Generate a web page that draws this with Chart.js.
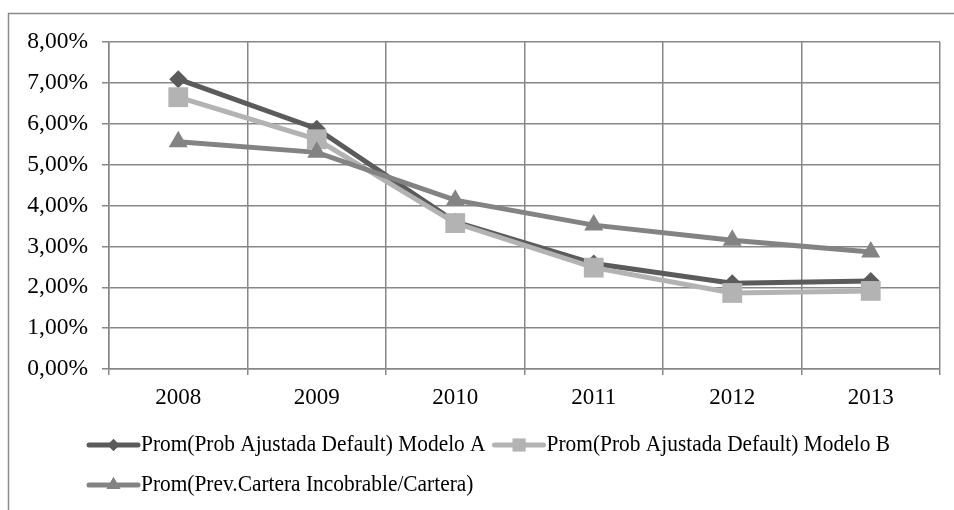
<!DOCTYPE html>
<html>
<head>
<meta charset="utf-8">
<script src="https://cdn.jsdelivr.net/npm/chart.js@4/dist/chart.umd.min.js"></script>
<style>
  html, body { margin: 0; padding: 0; background: #fff; }
  #wrap { width: 954px; height: 510px; }
</style>
</head>
<body>
<div id="wrap"><canvas id="myChart" width="954" height="510"></canvas></div>
<script>
// promedios anuales por modelo
var years = ["2008", "2009", "2010", "2011", "2012", "2013"];
var modeloA = [7.09, 5.88, 3.60, 2.58, 2.10, 2.15];
var modeloB = [6.65, 5.62, 3.57, 2.48, 1.86, 1.91];
var carteraIncob = [5.56, 5.30, 4.13, 3.52, 3.15, 2.86];
var yTicks = [0, 1, 2, 3, 4, 5, 6, 7, 8];

var labelA = "Prom(Prob Ajustada Default) Modelo A";
var labelB = "Prom(Prob Ajustada Default) Modelo B";
var labelC = "Prom(Prev.Cartera Incobrable/Cartera)";

var fontFamily = "'Liberation Serif', 'Times New Roman', serif";
var gridColor = "#878787";

function fmtPct(v) {
    return v.toFixed(2).replace(".", ",") + "%";
}

// marco exterior del grafico
var frame = {
    id: "frame",
    beforeDraw: function (chart) {
        var c = chart.ctx;
        c.save();
        c.strokeStyle = "#8a8a8a";
        c.lineWidth = 1.5;
        c.strokeRect(8.5, 13.5, chart.width + 20, chart.height + 20);
        c.restore();
    }
};

// leyenda con linea y marcador, estilo excel (texto algo comprimido)
var legendRadius = { rectRot: 6, rect: 9, triangle: 8 };
var squeeze = 0.93;
var lineLegend = {
    id: "lineLegend",
    afterDraw: function (chart) {
        var c = chart.ctx;
        var x0 = 87, x = x0, y = 445, rowH = 40, symW = 53, maxX = 930;
        c.save();
        c.font = "23px " + fontFamily;
        c.textBaseline = "middle";
        chart.data.datasets.forEach(function (ds) {
            var tw = c.measureText(ds.label).width * squeeze;
            if (x + symW + tw > maxX) { x = x0; y += rowH; }
            c.strokeStyle = ds.borderColor;
            c.lineWidth = 5;
            c.lineCap = "round";
            c.beginPath();
            c.moveTo(x + 2, y);
            c.lineTo(x + symW - 2, y);
            c.stroke();
            c.fillStyle = ds.pointBackgroundColor;
            Chart.helpers.drawPoint(c, {
                pointStyle: ds.pointStyle,
                radius: legendRadius[ds.pointStyle],
                borderWidth: 0
            }, x + symW / 2, y);
            c.fill();
            c.save();
            c.translate(x + symW + 1, y);
            c.scale(squeeze, 1);
            c.fillStyle = "#000";
            c.fillText(ds.label, 0, 0);
            c.restore();
            x += symW + tw + 8;
        });
        c.restore();
    }
};

var ctx = document.getElementById("myChart");

var myLineChart = new Chart(ctx, {
    type: "line",
    data: {
        labels: years,
        datasets: [
            {
                label: labelA,
                data: modeloA,
                borderColor: "#5b5b5b",
                backgroundColor: "#5b5b5b",
                pointBackgroundColor: "#5b5b5b",
                pointStyle: "rectRot",
                pointRadius: 9,
                order: 3
            },
            {
                label: labelB,
                data: modeloB,
                borderColor: "#b3b3b3",
                backgroundColor: "#b3b3b3",
                pointBackgroundColor: "#b3b3b3",
                pointStyle: "rect",
                pointRadius: 14,
                order: 2
            },
            {
                label: labelC,
                data: carteraIncob,
                borderColor: "#838383",
                backgroundColor: "#838383",
                pointBackgroundColor: "#838383",
                pointStyle: "triangle",
                pointRadius: 11,
                order: 1
            }
        ]
    },
    options: {
        responsive: false,
        animation: false,
        events: [],
        elements: {
            line: { borderWidth: 5, tension: 0 },
            point: { borderWidth: 0, hoverRadius: 0 }
        },
        layout: { padding: { left: 0, top: 42, right: 14, bottom: 0 } },
        plugins: {
            legend: { display: false },
            tooltip: { enabled: false }
        },
        scales: {
            x: {
                offset: true,
                grid: { offset: true, color: gridColor, lineWidth: 1.5, tickLength: 6 },
                border: { color: gridColor, width: 1.5 },
                ticks: {
                    color: "#000",
                    padding: 9,
                    font: { family: fontFamily, size: 23 }
                },
                afterFit: function (s) { s.height = 141; }
            },
            y: {
                min: 0,
                max: 8,
                afterBuildTicks: function (s) {
                    s.ticks = yTicks.map(function (v) { return { value: v }; });
                },
                grid: { color: gridColor, lineWidth: 1.5, tickLength: 7 },
                border: { color: gridColor, width: 1.5 },
                ticks: {
                    color: "#000",
                    padding: 14,
                    font: { family: fontFamily, size: 23.5 },
                    callback: function (v) { return fmtPct(v); }
                },
                afterFit: function (s) { s.width = 109; }
            }
        }
    },
    plugins: [frame, lineLegend]
});
</script>
</body>
</html>
